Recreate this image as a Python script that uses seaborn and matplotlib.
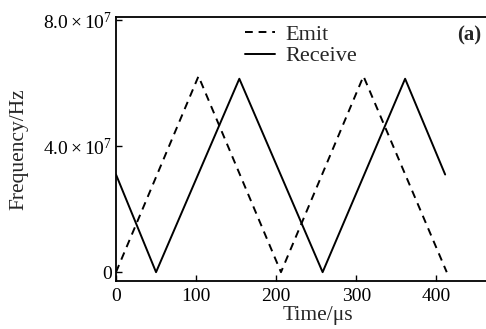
import numpy as np
import pandas as pd
import matplotlib
matplotlib.use("Agg")
import matplotlib.pyplot as plt
import seaborn as sns

# ---------------------------
# data
# ---------------------------
emit_t = [0, 103, 206, 309, 413]
emit_f = [0, 6.22e7, 0, 6.22e7, 0]

recv_t = [0, 50, 154, 258, 361, 411]
recv_f = [3.1e7, 0, 6.14e7, 0, 6.14e7, 3.1e7]

xticks = [0, 100, 200, 300, 400]
yticks = [0, 4e7, 8e7]
ytick_labels = ["0", r"$\mathregular{4.0\times10^{7}}$", r"$\mathregular{8.0\times10^{7}}$"]

# ---------------------------
# style
# ---------------------------
sns.set_style("ticks")
plt.rcParams["font.family"] = ["Liberation Serif", "DejaVu Serif"]
plt.rcParams["mathtext.fontset"] = "stix"

fig = plt.figure(figsize=(4.86, 3.29), dpi=100)
ax = fig.add_axes([116 / 486, 1 - 281 / 329, 374 / 486, 264 / 329])

sns.lineplot(x=emit_t, y=emit_f, ax=ax, color="black", lw=1.4,
             linestyle=(0, (4, 3)), label="Emit", sort=False)
sns.lineplot(x=recv_t, y=recv_f, ax=ax, color="black", lw=1.4,
             label="Receive", sort=False)

ax.set_xlim(0, 467)
ax.set_ylim(-0.28e7, 8.1e7)
ax.set_xticks(xticks)
ax.set_yticks(yticks)
ax.set_yticklabels(ytick_labels)
ax.tick_params(direction="in", length=4, width=1, labelsize=14, colors="black")
ax.tick_params(axis="y", pad=3)
ax.tick_params(axis="x", pad=5)
for s in ax.spines.values():
    s.set_linewidth(1.3)
    s.set_color("black")

ax.set_xlabel("Time/\u03bcs", fontsize=15.5)
ax.set_ylabel("Frequency/Hz", fontsize=15.5)
ax.xaxis.set_label_coords(0.54, -0.095)
ax.yaxis.set_label_coords(-0.234, 0.5)

leg = ax.legend(loc="upper left", bbox_to_anchor=(0.345, 0.973), frameon=False,
                fontsize=16, handlelength=1.35, handletextpad=0.45,
                labelspacing=0.05, borderaxespad=0, borderpad=0)
ax.text(0.945, 0.93, "(a)", transform=ax.transAxes, fontsize=15,
        fontweight="bold", ha="center", va="center")

fig.savefig("out.png", dpi=100)
